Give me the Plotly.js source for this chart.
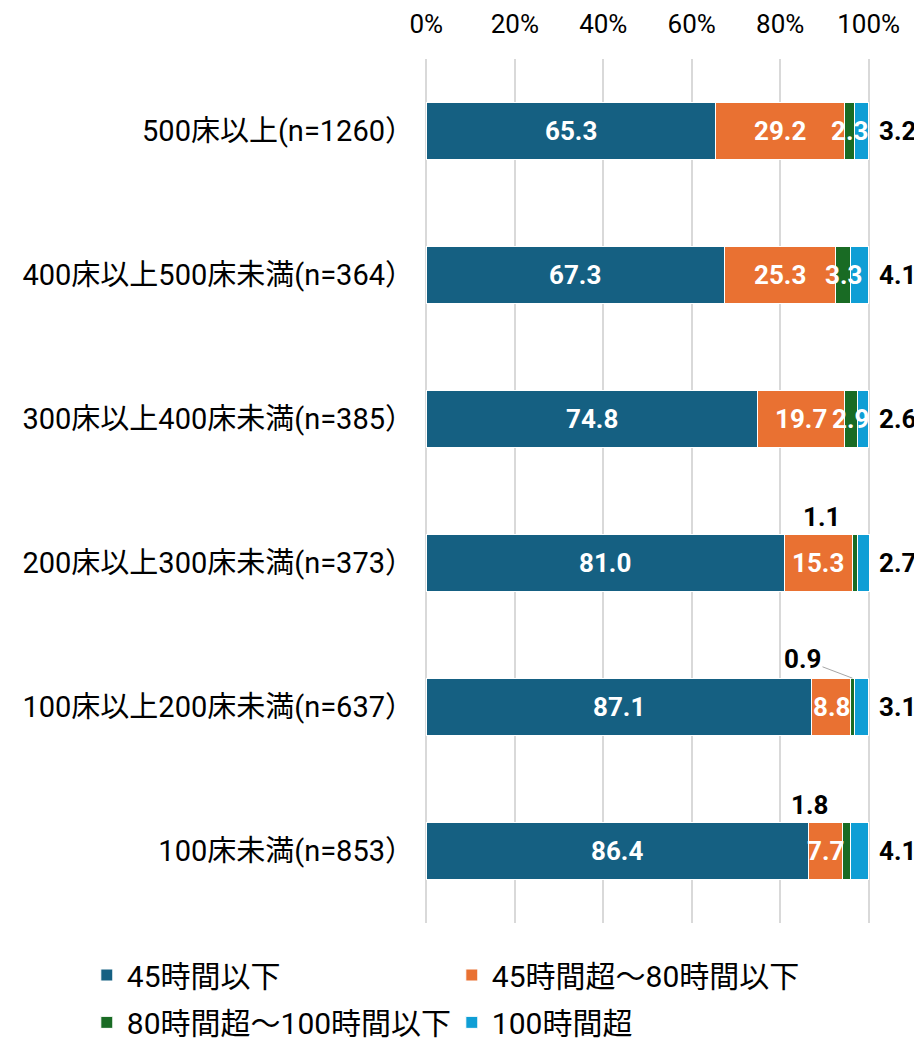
<!DOCTYPE html>
<html>
<head>
<meta charset="utf-8">
<script src="https://cdn.plot.ly/plotly-3.0.1.min.js"></script>
<style>html,body{margin:0;padding:0;background:#fff;}#chart{width:914px;height:1038px;}</style>
</head>
<body>
<div id="chart"></div>
<script>
// ---- data ----
var categories = [
  "500床以上(n=1260）",
  "400床以上500床未満(n=364）",
  "300床以上400床未満(n=385）",
  "200床以上300床未満(n=373）",
  "100床以上200床未満(n=637）",
  "100床未満(n=853）"
];
var seriesNames = ["45時間以下", "45時間超～80時間以下", "80時間超～100時間以下", "100時間超"];
var under45   = [65.3, 67.3, 74.8, 81.0, 87.1, 86.4];
var h45to80   = [29.2, 25.3, 19.7, 15.3, 8.8, 7.7];
var h80to100  = [2.3, 3.3, 2.9, 1.1, 0.9, 1.8];
var over100   = [3.2, 4.1, 2.6, 2.7, 3.1, 4.1];
var xTickVals = [0, 20, 40, 60, 80, 100];
var xTickText = ["0%", "20%", "40%", "60%", "80%", "100%"];

// ---- styles ----
var colors = ["#156082", "#E97132", "#196B24", "#0F9ED5"];
var series = [under45, h45to80, h80to100, over100];
var FONT = "Roboto, 'Noto Sans CJK JP', sans-serif";
var legendIds = ["legend", "legend", "legend2", "legend2"];

var traces = series.map(function (vals, i) {
  return {
    type: "bar",
    orientation: "h",
    name: seriesNames[i],
    y: categories,
    x: vals,
    marker: { color: colors[i], line: { color: "#ffffff", width: 1 } },
    width: 0.4,
    legend: legendIds[i],
    hoverinfo: "skip"
  };
});

// ---- labels (annotations placed from data) ----
var annotations = [];
var smallOffsets = { 3: { xs: -33, ys: 46 }, 5: { xs: -37, ys: 46 } };
categories.forEach(function (cat, c) {
  var cum = 0;
  series.forEach(function (vals, i) {
    var v = vals[c];
    var mid = cum + v / 2;
    cum += v;
    var txt = v.toFixed(1);
    if (i < 2 || (i === 2 && v >= 2)) {
      annotations.push({ x: mid, y: cat, xref: "x", yref: "y", text: txt, showarrow: false,
        font: { family: FONT, size: 26, color: "#ffffff", weight: "bold" } });
    } else if (i === 2) {
      if (smallOffsets[c]) {
        annotations.push({ x: mid, y: cat, xref: "x", yref: "y", text: txt, showarrow: false,
          xshift: smallOffsets[c].xs, yshift: smallOffsets[c].ys,
          font: { family: FONT, size: 26, color: "#000000", weight: "bold" } });
      } else {
        annotations.push({ x: mid, y: c - 0.2, xref: "x", yref: "y", text: txt, showarrow: true,
          arrowhead: 0, arrowwidth: 1, arrowcolor: "#a6a6a6", standoff: 0,
          ax: -50, ay: -19,
          font: { family: FONT, size: 26, color: "#000000", weight: "bold" } });
      }
    } else {
      annotations.push({ x: 100, y: cat, xref: "x", yref: "y", text: txt, showarrow: false,
        xanchor: "left", xshift: 8,
        font: { family: FONT, size: 26, color: "#000000", weight: "bold" } });
    }
  });
});

var layout = {
  width: 914,
  height: 1038,
  margin: { l: 425, r: 44, t: 59, b: 115, autoexpand: false },
  paper_bgcolor: "#ffffff",
  plot_bgcolor: "#ffffff",
  barmode: "stack",
  bargap: 0.6,
  font: { family: FONT, color: "#000000" },
  xaxis: {
    side: "top",
    range: [-0.3, 100.3],
    tickvals: xTickVals,
    ticktext: xTickText,
    showgrid: true,
    gridcolor: "#d9d9d9",
    gridwidth: 2,
    zeroline: false,
    showline: false,
    ticks: "",
    ticklabelstandoff: 20,
    tickfont: { family: FONT, size: 26, color: "#000000" },
    fixedrange: true
  },
  yaxis: {
    type: "category",
    autorange: "reversed",
    showgrid: false,
    zeroline: false,
    showline: false,
    ticks: "",
    ticklabelstandoff: 10,
    tickfont: { family: FONT, size: 29, color: "#000000" },
    fixedrange: true
  },
  showlegend: true,
  legend: {
    orientation: "h",
    x: -0.76, xanchor: "left",
    y: -0.0602, yanchor: "middle",
    entrywidth: 320,
    font: { family: FONT, size: 30, color: "#000000" },
    traceorder: "normal",
    itemclick: false
  },
  legend2: {
    orientation: "h",
    x: -0.76, xanchor: "left",
    y: -0.1150, yanchor: "middle",
    entrywidth: 320,
    font: { family: FONT, size: 30, color: "#000000" },
    traceorder: "normal",
    itemclick: false
  },
  annotations: annotations
};

Plotly.newPlot("chart", traces, layout, { staticPlot: true, displayModeBar: false });
</script>
</body>
</html>
